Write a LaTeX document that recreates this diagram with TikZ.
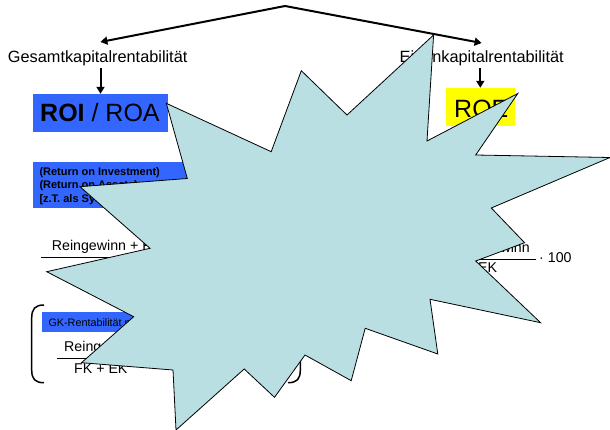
\documentclass[tikz,border=0pt]{standalone}
\usepackage{fontspec}
\setmainfont{Liberation Sans}
\usetikzlibrary{arrows.meta}
\definecolor{starfill}{RGB}{185,223,227}
\definecolor{boxblue}{RGB}{51,102,255}
\definecolor{boxyellow}{RGB}{255,255,0}

\begin{document}
\begin{tikzpicture}[x=1pt,y=-1pt,
  txt/.style={inner sep=0pt, anchor=base west},
  txtr/.style={inner sep=0pt, anchor=base east},
  head/.style={font=\fontsize{16.3}{19}\selectfont},
  big/.style={font=\fontsize{25}{30}\selectfont},
  formula/.style={font=\fontsize{14.2}{17}\selectfont},
  note/.style={font=\fontsize{11}{13.3}\selectfont\bfseries},
  small/.style={font=\fontsize{10.8}{13}\selectfont},
  box/.style={inner sep=0pt, minimum width=#1},
  arr/.style={line width=2pt, -{Triangle[length=7pt,width=8pt]}},
  fracline/.style={line width=1pt},
  paren/.style={line width=1.5pt},
  burst/.style={draw=black, line width=0.8pt, fill=starfill, line join=miter}]
\useasboundingbox (0,0) rectangle (610,430);

% split into the two kinds of return
\coordinate (apex) at (285,6);
\coordinate (gktip) at (100.4,42);
\coordinate (ektip) at (481.6,43);
\draw[arr] (apex) -- (gktip);
\draw[arr] (apex) -- (ektip);

\node[txt, head] (gk) at (7.8,62.7) {Gesamtkapitalrentabilität};
\node[txt, head] (ek) at (399.5,62.7) {Eigenkapitalrentabilität};

% headline boxes
\node[box=135pt, minimum height=37.7pt, fill=boxblue] (roibox) at (100.5,112.85) {};
\node[txt, big] (roitext) at (40,121.7) {\textbf{ROI} / ROA};
\node[box=68.6pt, minimum height=38pt, fill=boxyellow] (roebox) at (480.3,107) {};
\node[txt, big] (roetext) at (454,117.3) {ROE};

\draw[arr] ([yshift=-2pt]gk.south -| roibox.north) -- (roibox.north);
\draw[arr] ([yshift=-2pt]ek.south -| roebox.north) -- (roebox.north);

% explanation box
\node[box=232pt, minimum height=45.4pt, fill=boxblue] (notebox) at (149,185) {};
\node[txt, note] (n1) at (39.3,175.7) {(Return on Investment)};
\node[txt, note] (n2) at (39.3,189) {(Return on Assets)};
\node[txt, note] (n3) at (39.3,202.3) {[z.T. als Synonym verwendet]};

% return on total capital
\node[txt, formula] (gknum) at (51.7,251) {Reingewinn + FK-Zinsen};
\coordinate (gkl) at (41,257.3);
\coordinate (gkr) at (230,257.3);
\draw[fracline] (gkl) -- (gkr);

% return on equity
\node[txtr, formula] (eknum) at (530,252.7) {Reingewinn};
\coordinate (ekl) at (440,259.5);
\coordinate (ekr) at (536,259.5);
\draw[fracline] (ekl) -- (ekr);
\node[txt, formula] (ekden) at (478,272.3) {EK};
\node[txt, formula] (ekfac) at (539,262.3) {· 100};

% bracketed variant
\draw[paren] (44,305) .. controls (35,305) and (31.7,309) .. (31.7,318)
  -- (31.7,370) .. controls (31.7,379) and (35,382.7) .. (44,382.7);
\draw[paren] (288,305) .. controls (297,305) and (300.3,309) .. (300.3,318)
  -- (300.3,370) .. controls (300.3,379) and (297,382.7) .. (288,382.7);
\node[box=208.3pt, minimum height=19.7pt, fill=boxblue] (gkbox) at (145.85,322.15) {};
\node[txt, small] (gklabel) at (48.3,326) {GK-Rentabilität nach Steuern};
\node[txt, formula] (brnum) at (64,351.7) {Reingewinn + FK-Zinsen};
\coordinate (brl) at (57.3,358.3);
\coordinate (brr) at (270,358.3);
\draw[fracline] (brl) -- (brr);
\node[txt, formula] (brden) at (74,373.3) {FK + EK};

% the burst on top
\draw[burst] (433.6,35) -- (427,141) -- (517.8,93.5) -- (475.7,155)
  -- (610,157.5) -- (491.3,208) -- (524.6,242.7) -- (475.7,261)
  -- (540.6,322.7) -- (430,299.3) -- (437.8,354) -- (365.2,328.3)
  -- (351.2,380.7) -- (305,355) -- (274.5,397.3) -- (244.2,369)
  -- (176,430) -- (173,370) -- (81.5,362.7) -- (133.7,316.7)
  -- (46.7,271.7) -- (150,248.3) -- (80,186.7) -- (187.3,178.5)
  -- (166.3,103.3) -- (271.2,151.7) -- (301.3,70.7) -- (347,115)
  -- cycle;
\end{tikzpicture}
\end{document}
